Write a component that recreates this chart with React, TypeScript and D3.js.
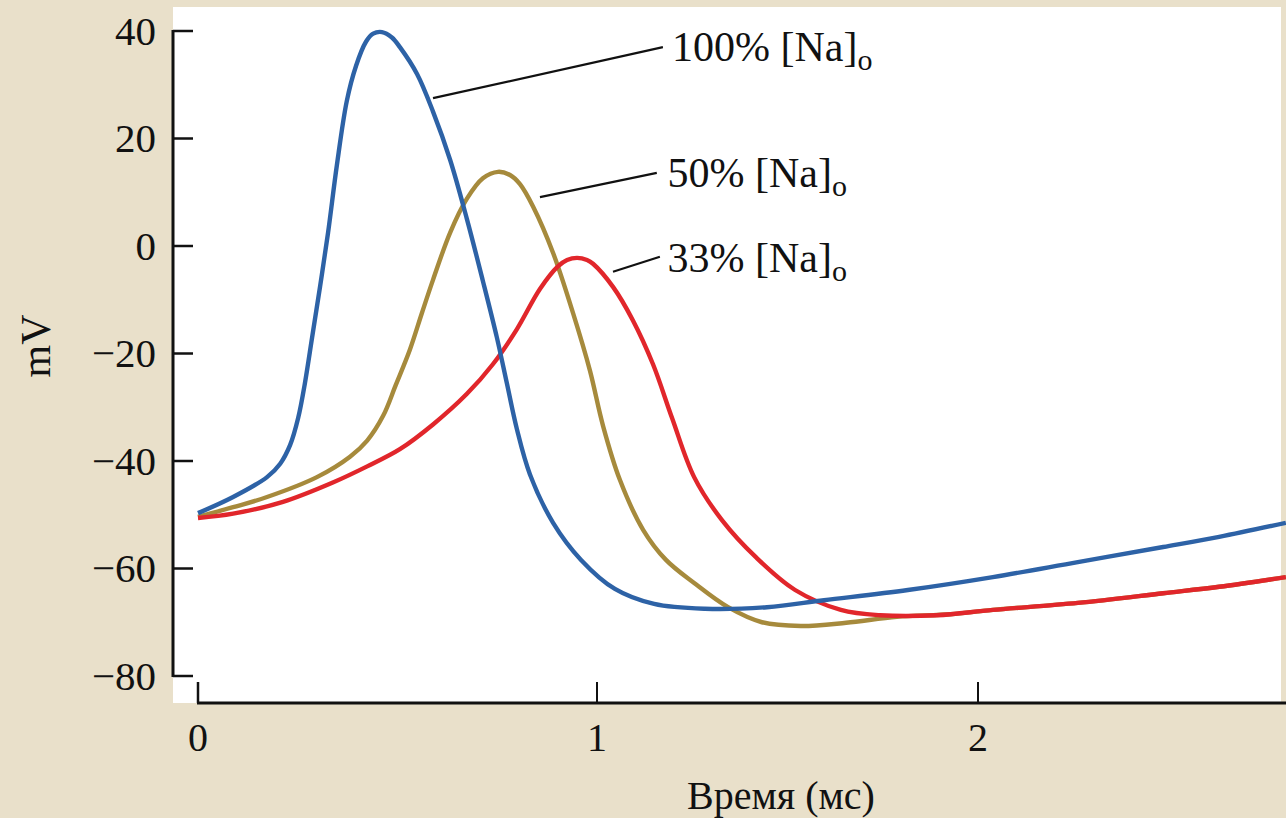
import React from 'react';
import * as d3 from 'd3';

// time (ms) and membrane potential (mV)
const blueT = [0, 0.088, 0.173, 0.206, 0.231, 0.251, 0.268, 0.286, 0.306, 0.326, 0.348, 0.373, 0.396, 0.421, 0.439, 0.461, 0.486, 0.506, 0.549, 0.589, 0.632, 0.674, 0.714, 0.749, 0.774, 0.799, 0.832, 0.89, 0.96, 1.047, 1.15, 1.283, 1.446, 1.596, 1.816, 2.039, 2.262, 2.486, 2.633, 2.808];
const blueV = [-49.7, -46.7, -43, -40.5, -37, -32, -25.5, -17, -7.5, 2.5, 15, 27, 33.5, 38, 39.5, 39.8, 38.8, 37, 32, 25, 16, 5, -6.5, -17, -25.5, -34, -42.5, -51.5, -58.4, -63.8, -66.6, -67.5, -67.2, -65.9, -64, -61.6, -58.8, -56, -54.1, -51.5];

const goldT = [0, 0.088, 0.173, 0.298, 0.381, 0.424, 0.464, 0.496, 0.531, 0.561, 0.589, 0.632, 0.674, 0.714, 0.752, 0.782, 0.807, 0.84, 0.89, 0.94, 0.982, 1.016, 1.06, 1.121, 1.181, 1.255, 1.344, 1.433, 1.535, 1.654, 1.787, 1.927, 2.039, 2.262, 2.486, 2.633, 2.808];
const goldV = [-50.4, -48.6, -46.7, -43, -39.2, -36.2, -31.6, -25.8, -19.3, -12.5, -6.3, 2.5, 8.8, 12.6, 13.8, 13.2, 11.5, 7.3, -1.3, -12.5, -23.1, -33.5, -43.5, -52.8, -58.4, -62.7, -67.2, -70, -70.7, -70.1, -69, -68.5, -67.7, -66.4, -64.6, -63.4, -61.6];

const redT = [0, 0.088, 0.213, 0.338, 0.424, 0.506, 0.589, 0.674, 0.739, 0.799, 0.857, 0.902, 0.925, 0.95, 0.975, 0.99, 1.042, 1.094, 1.147, 1.197, 1.255, 1.328, 1.417, 1.52, 1.64, 1.743, 1.892, 2.039, 2.262, 2.486, 2.633, 2.808];
const redV = [-50.6, -49.8, -47.6, -44, -41, -37.8, -33.2, -27.5, -22, -15.5, -8, -3.8, -2.6, -2.2, -2.6, -3.3, -7.6, -13.8, -22, -32, -43, -51, -57.9, -64, -67.7, -68.7, -68.7, -67.7, -66.4, -64.6, -63.4, -61.6];

const yTicks = [40, 20, 0, -20, -40, -60, -80];
const xTicks = [0, 1, 2];

const seriesNames = ['50%', '33%', '100%'];
const seriesColors = ['#a68a3c', '#e1262b', '#2d62a6'];

// label anchors in data units: leader line from the curve to the text
const labelFrom = [[0.589, 27.5], [0.857, 9.1], [1.042, -4.8]];
const labelTo = [[1.173, 37], [1.157, 13.6], [1.165, -2]];
const labelAt = [[1.197, 34.5], [1.185, 11], [1.185, -4.9]];
const labelPct = ['100%', '50%', '33%'];

const font = '"Liberation Serif", "Times New Roman", serif';

export default function App() {
  const W = 1286;
  const H = 818;

  // the original x axis is hand drawn: 0..1 is a bit wider than 1..2
  const x = d3.scaleLinear().domain([0, 1, 2]).range([198, 597, 978]);
  const y = d3.scaleLinear().domain([-80, 40]).range([676, 31]);

  const line = d3.line<[number, number]>()
    .x((d) => x(d[0]))
    .y((d) => y(d[1]))
    .curve(d3.curveCatmullRom.alpha(0.5));

  const data = [
    d3.zip(goldT, goldV),
    d3.zip(redT, redV),
    d3.zip(blueT, blueV),
  ] as [number, number][][];

  return (
    <div style={{ position: 'fixed', left: 0, top: 0 }}>
      <svg width={W} height={H} style={{ display: 'block' }}>
        <rect x={0} y={0} width={W} height={H} fill="#e9e0ca" />
        <rect x={173} y={7} width={1108} height={696} fill="#ffffff" />

        {data.map((d, i) => (
          <path
            key={seriesNames[i]}
            d={line(d) || ''}
            fill="none"
            stroke={seriesColors[i]}
            strokeWidth={4.4}
            strokeLinejoin="round"
          />
        ))}

        {/* y axis */}
        <line x1={173} x2={173} y1={y(40) - 1} y2={y(-80) + 1} stroke="#111" strokeWidth={3} />
        {yTicks.map((t) => (
          <g key={t} transform={`translate(0,${y(t)})`}>
            <line x1={173} x2={193} stroke="#111" strokeWidth={2.5} />
            <text
              x={156}
              dy="0.34em"
              textAnchor="end"
              fontFamily={font}
              fontSize={41}
              fill="#111"
            >
              {t < 0 ? `\u2212${Math.abs(t)}` : t}
            </text>
          </g>
        ))}

        {/* x axis */}
        <line x1={x(0) - 1} x2={W} y1={703} y2={703} stroke="#111" strokeWidth={3} />
        {xTicks.map((t) => (
          <g key={t} transform={`translate(${x(t)},0)`}>
            <line y1={682} y2={703} stroke="#111" strokeWidth={t === 0 ? 2.5 : 2} />
            <text
              y={751}
              textAnchor="middle"
              fontFamily={font}
              fontSize={40}
              fill="#111"
            >
              {t}
            </text>
          </g>
        ))}

        <text
          x={781}
          y={809}
          textAnchor="middle"
          fontFamily={font}
          fontSize={40}
          fill="#111"
        >
          Время (мс)
        </text>
        <text
          transform="translate(50,346) rotate(-90)"
          textAnchor="middle"
          fontFamily={font}
          fontSize={42}
          fill="#111"
        >
          mV
        </text>

        {labelPct.map((p, i) => (
          <g key={p}>
            <line
              x1={x(labelFrom[i][0])}
              y1={y(labelFrom[i][1])}
              x2={x(labelTo[i][0])}
              y2={y(labelTo[i][1])}
              stroke="#111"
              strokeWidth={2.2}
            />
            <text
              x={x(labelAt[i][0])}
              y={y(labelAt[i][1])}
              fontFamily={font}
              fontSize={42}
              fill="#111"
            >
              {`${p} [Na]`}
              <tspan fontSize={30} dy={9}>o</tspan>
            </text>
          </g>
        ))}
      </svg>
    </div>
  );
}
